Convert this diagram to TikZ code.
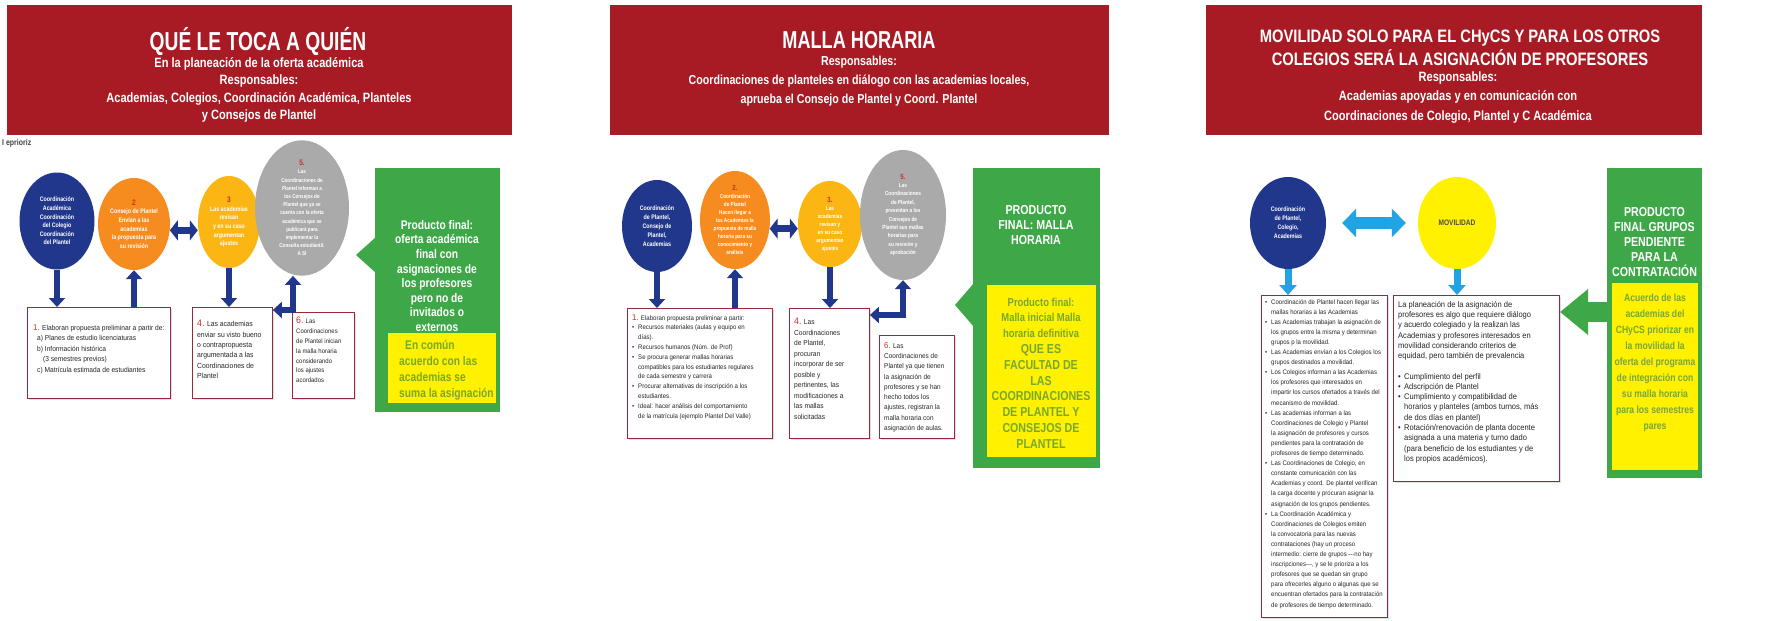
\documentclass[tikz,border=0pt]{standalone}
\usepackage{fontspec}
\setmainfont{Liberation Sans}
\newfontfamily\nar[FakeStretch=0.82]{Liberation Sans}
\newfontfamily\nrm[FakeStretch=0.92]{Liberation Sans}
\newfontfamily\ttl[FakeStretch=0.74]{Liberation Sans}
\usetikzlibrary{shapes.geometric,arrows.meta,shadows}
\definecolor{hdrred}{RGB}{168,27,36}
\definecolor{navy}{RGB}{33,55,140}
\definecolor{orng}{RGB}{246,139,31}
\definecolor{gold}{RGB}{252,182,20}
\definecolor{greyc}{RGB}{170,170,170}
\definecolor{grn}{RGB}{62,168,72}
\definecolor{ylw}{RGB}{255,241,0}
\definecolor{olive}{RGB}{118,168,48}
\definecolor{boxred}{RGB}{150,40,60}
\definecolor{numred}{RGB}{205,45,40}
\definecolor{cyanb}{RGB}{32,164,228}
\newcommand{\mybul}{\makebox[6pt][l]{\textbullet}}
\newcommand{\myind}{\hspace*{6pt}}
\begin{document}
\begin{tikzpicture}[x=1pt,y=-1pt,
  hdr/.style={fill=hdrred, anchor=north west, inner sep=0pt, minimum height=130pt},
  htitle/.style={text=white, font=\nar\bfseries\fontsize{23.5}{26}\selectfont, inner sep=0pt, align=center},
  hsub/.style={text=white, font=\nar\bfseries\fontsize{13.5}{17.5}\selectfont, align=center, inner sep=0pt},
  circ/.style={ellipse, inner sep=0pt, align=center, text=white, font=\nar\bfseries\fontsize{6.5}{8.6}\selectfont},
  tbox/.style={draw=boxred, line width=0.9pt, fill=white, anchor=north west, inner sep=0pt,
    drop shadow={shadow xshift=1.5pt, shadow yshift=-1.5pt, opacity=0.25}},
  btxt/.style={anchor=north west, inner sep=0pt, align=left, text=black!85, font=\nrm\fontsize{7}{10.3}\selectfont},
  grbox/.style={fill=grn, anchor=north west, inner sep=0pt},
  ybox/.style={fill=ylw, anchor=north west, inner sep=0pt},
  grtxt/.style={text=white, align=center, inner sep=0pt, font=\nar\bfseries\fontsize{12.5}{14.6}\selectfont},
  ytxt/.style={text=olive, inner sep=0pt, font=\nar\bfseries\fontsize{12.5}{16}\selectfont},
  barrow/.style={draw=navy, line width=6pt, -{Triangle[width=16pt,length=9pt]}},
  bdbl/.style={draw=navy, line width=7pt, {Triangle[width=20pt,length=8pt]}-{Triangle[width=20pt,length=8pt]}},
  carrow/.style={draw=cyanb, line width=7pt, -{Triangle[width=17pt,length=10pt]}},
  cdbl/.style={draw=cyanb, line width=12pt, {Triangle[width=28pt,length=14pt]}-{Triangle[width=28pt,length=14pt]}}
]
\useasboundingbox (0,0) rectangle (1765,621);
\fill[white] (0,0) rectangle (1765,621);

% ---------------- headers
\node[hdr, minimum width=505pt] (h1) at (7,5) {};
\node[htitle, font=\ttl\bfseries\fontsize{26}{28}\selectfont] (h1t) at (258,42) {QUÉ LE TOCA A QUIÉN};
\node[hsub] (h1s) at (259,90) {En la planeación de la oferta académica\\Responsables:\\Academias, Colegios, Coordinación Académica, Planteles\\y Consejos de Plantel};

\node[hdr, minimum width=499pt] (h2) at (610,5) {};
\node[htitle, font=\ttl\bfseries\fontsize{24.5}{26}\selectfont] (h2t) at (859,40) {MALLA HORARIA};
\node[hsub, font=\nar\bfseries\fontsize{13}{19}\selectfont] (h2s) at (859,81) {Responsables:\\Coordinaciones de planteles en diálogo con las academias locales,\\aprueba el Consejo de Plantel y Coord. Plantel};

\node[hdr, minimum width=496pt] (h3) at (1206,5) {};
\node[htitle, font=\nar\bfseries\fontsize{18}{23}\selectfont] (h3t) at (1460,48) {MOVILIDAD SOLO PARA EL CHyCS Y PARA LOS OTROS\\COLEGIOS SERÁ LA ASIGNACIÓN DE PROFESORES};
\node[hsub, font=\nar\bfseries\fontsize{13.5}{19.5}\selectfont] (h3s) at (1458,97.5) {Responsables:\\Academias apoyadas y en comunicación con\\Coordinaciones de Colegio, Plantel y C Académica};

\node[anchor=west, inner sep=0pt, text=black!75, font=\nar\bfseries\fontsize{8.5}{9}\selectfont] (lab) at (2,143) {I eprioriz};

% ---------------- panel 1
\node[circ, fill=navy, minimum width=75pt, minimum height=97pt] (c1) at (57,221) {Coordinación\\Académica\\Coordinación\\del Colegio\\Coordinación\\del Plantel};
\node[circ, fill=orng, minimum width=72pt, minimum height=92pt] (o1) at (134,224) {{\color{numred}\fontsize{8}{9}\selectfont 2}\\Consejo de Plantel\\Envían a las\\academias\\la propuesta para\\su revisión};
\node[circ, fill=gold, minimum width=62pt, minimum height=92pt] (y1) at (229,222) {{\color{numred}\fontsize{8}{9}\selectfont 3}\\Las academias\\revisan\\y en su caso\\argumentan\\ajustes};
\node[circ, fill=greyc, minimum width=94pt, minimum height=116pt, font=\nar\bfseries\fontsize{5.6}{8.2}\selectfont] (g1) at (302,208) {{\color{numred}\fontsize{8}{8.5}\selectfont 5.}\\Las\\Coordinaciones de\\Plantel informan a\\los Consejos de\\Plantel que ya se\\cuenta con la oferta\\académica que se\\publicará para\\implementar la\\Consulta estudiantil.\\A SI};

\node[tbox, minimum width=143pt, minimum height=91pt] (b1a) at (27,307) {};
\node[tbox, minimum width=80pt, minimum height=91pt] (b1b) at (192,307) {};
\node[tbox, minimum width=62pt, minimum height=86pt] (b1c) at (292,312) {};

\node[btxt, font=\nrm\fontsize{7.2}{10.5}\selectfont] (t1a) at (33,324) {{\color{numred}\fontsize{8.5}{10}\selectfont 1.} Elaboran propuesta preliminar a partir de:\\
\hspace*{4pt}a) Planes de estudio licenciaturas\\
\hspace*{4pt}b) Información histórica\\
\hspace*{10pt}(3 semestres previos)\\
\hspace*{4pt}c) Matrícula estimada de estudiantes};
\node[btxt, font=\nrm\fontsize{7.4}{10.4}\selectfont] (t1b) at (197,320) {{\color{numred}\fontsize{9.5}{10}\selectfont 4.} Las academias\\enviar su visto bueno\\o contrapropuesta\\argumentada a las\\Coordinaciones de\\Plantel};
\node[btxt, font=\nrm\fontsize{6.5}{9.8}\selectfont] (t1c) at (296,317) {{\color{numred}\fontsize{9.5}{10}\selectfont 6.} Las\\Coordinaciones\\de Plantel inician\\la malla horaria\\considerando\\los ajustes\\acordados};

\draw[barrow] (c1.south) -- (c1.south |- b1a.north);
\draw[barrow] (o1.south |- b1a.north) -- (o1.south);
\draw[bdbl] (o1.-10) -- (o1.-10 -| y1.west);
\draw[barrow] (y1.south) -- (y1.south |- b1b.north);
\draw[draw=navy, line width=6pt, {Triangle[width=16pt,length=9pt]}-{Triangle[width=16pt,length=9pt]}] ([xshift=-9pt]g1.south) |- ([yshift=-3pt]b1b.north east);

\node[grbox, minimum width=125pt, minimum height=244pt] (gr1) at (375,168) {};
\coordinate (p1) at (356,255);
\coordinate (p1a) at (376,237);
\coordinate (p1b) at (376,273);
\fill[grn] (p1a) -- (p1) -- (p1b) -- cycle;
\node[ybox, minimum width=108pt, minimum height=70pt] (yb1) at (388,333) {};
\node[grtxt] (gt1) at (437,276) {Producto final:\\oferta académica\\final con\\asignaciones de\\los profesores\\pero no de\\invitados o\\externos};
\node[ytxt, anchor=west, align=left] (yt1) at (399,370) {\hspace*{6pt}En común\\acuerdo con las\\academias se\\suma la asignación};

% ---------------- panel 2
\node[circ, fill=navy, minimum width=70pt, minimum height=92pt, font=\nar\bfseries\fontsize{6.5}{9}\selectfont] (c2) at (657,226) {Coordinación\\de Plantel,\\Consejo de\\Plantel,\\Academias};
\node[circ, fill=orng, minimum width=70pt, minimum height=96pt, font=\nar\bfseries\fontsize{5.7}{8}\selectfont] (o2) at (735,220) {{\color{numred}\fontsize{7.5}{8}\selectfont 2.}\\Coordinación\\de Plantel\\Hacen llegar a\\las Academias la\\propuesta de malla\\horaria para su\\conocimiento y\\análisis};
\node[circ, fill=gold, minimum width=64pt, minimum height=86pt, font=\nar\bfseries\fontsize{5.8}{8}\selectfont] (y2) at (830,224) {{\color{numred}\fontsize{7.5}{8}\selectfont 3.}\\Las\\academias\\revisan y\\en su caso\\argumentan\\ajustes};
\node[circ, fill=greyc, minimum width=86pt, minimum height=130pt, font=\nar\bfseries\fontsize{5.8}{8.4}\selectfont] (g2) at (903,215) {{\color{numred}\fontsize{7.5}{8.4}\selectfont 5.}\\Las\\Coordinaciones\\de Plantel,\\presentan a los\\Consejos de\\Plantel sus mallas\\horarias para\\su revisión y\\aprobación};

\node[tbox, minimum width=145pt, minimum height=130pt] (b2a) at (627,308) {};
\node[tbox, minimum width=80pt, minimum height=130pt] (b2b) at (789,308) {};
\node[tbox, minimum width=75pt, minimum height=103pt] (b2c) at (879,335) {};

\node[btxt, font=\nrm\fontsize{6.6}{9.8}\selectfont] (t2a) at (632,314) {{\color{numred}\fontsize{8.5}{9.8}\selectfont 1.} Elaboran propuesta preliminar a partir:\\
\mybul Recursos materiales (aulas y equipo en\\
\myind días).\\
\mybul Recursos humanos (Núm. de Prof)\\
\mybul Se procura generar mallas horarias\\
\myind compatibles para los estudiantes regulares\\
\myind de cada semestre y carrera\\
\mybul Procurar alternativas de inscripción a los\\
\myind estudiantes.\\
\mybul Ideal: hacer análisis del comportamiento\\
\myind de la matrícula (ejemplo Plantel Del Valle)};
\node[btxt, font=\nrm\fontsize{7.2}{10.5}\selectfont] (t2b) at (794,318) {{\color{numred}\fontsize{9.5}{10.5}\selectfont 4.} Las\\Coordinaciones\\de Plantel,\\procuran\\incorporar de ser\\posible y\\pertinentes, las\\modificaciones a\\las mallas\\solicitadas};
\node[btxt, font=\nrm\fontsize{7}{10.3}\selectfont] (t2c) at (884,342) {{\color{numred}\fontsize{8.5}{10.3}\selectfont 6.} Las\\Coordinaciones de\\Plantel ya que tienen\\la asignación de\\profesores y se han\\hecho todos los\\ajustes, registran la\\malla horaria con\\asignación de aulas.};

\draw[barrow] (c2.south) -- (c2.south |- b2a.north);
\draw[barrow] (o2.south |- b2a.north) -- (o2.south);
\draw[bdbl] (o2.-14) -- (o2.-14 -| y2.west);
\draw[barrow] (y2.south) -- (y2.south |- b2b.north);
\draw[draw=navy, line width=6pt, {Triangle[width=16pt,length=9pt]}-{Triangle[width=16pt,length=9pt]}] (g2.south) |- ([yshift=-7pt]b2b.north east);

\node[grbox, minimum width=127pt, minimum height=300pt] (gr2) at (973,168) {};
\coordinate (p2) at (955,305);
\coordinate (p2a) at (974,283);
\coordinate (p2b) at (974,327);
\fill[grn] (p2a) -- (p2) -- (p2b) -- cycle;
\node[grtxt, font=\nar\bfseries\fontsize{13}{15}\selectfont] (gt2) at (1036,225) {PRODUCTO\\FINAL: MALLA\\HORARIA};
\node[ybox, minimum width=109pt, minimum height=172pt] (yb2) at (987,285) {};
\node[ytxt, align=center, font=\nar\bfseries\fontsize{13}{15.8}\selectfont] (yt2) at (1041,373) {{\fontsize{11.5}{15.8}\selectfont Producto final:}\\{\fontsize{11.5}{15.8}\selectfont Malla inicial Malla}\\{\fontsize{11.5}{15.8}\selectfont horaria definitiva}\\QUE ES\\FACULTAD DE\\LAS\\COORDINACIONES\\DE PLANTEL Y\\CONSEJOS DE\\PLANTEL};

% ---------------- panel 3
\node[circ, fill=navy, minimum width=76pt, minimum height=92pt, font=\nar\bfseries\fontsize{6.5}{9}\selectfont] (c3) at (1288,223) {Coordinación\\de Plantel,\\Colegio,\\Academias};
\node[circ, fill=ylw, minimum width=78pt, minimum height=92pt, text=black!70, font=\nar\bfseries\fontsize{8}{9}\selectfont] (y3) at (1457,223) {MOVILIDAD};
\draw[cdbl, shorten <=16pt, shorten >=12pt] (c3) -- (y3);

\node[tbox, minimum width=126pt, minimum height=322pt] (lb) at (1261,295) {};
\node[tbox, minimum width=166pt, minimum height=186pt] (mb) at (1393,295) {};
\draw[carrow] (c3.south) -- (c3.south |- lb.north);
\draw[carrow] (y3.south) -- (y3.south |- mb.north);

\node[btxt, font=\nrm\fontsize{6.55}{10.1}\selectfont] (tl) at (1265,299) {\mybul Coordinación de Plantel hacen llegar las\\
\myind mallas horarias a las Academias\\
\mybul Las Academias trabajan la asignación de\\
\myind los grupos entre la misma y determinan\\
\myind grupos p la movilidad.\\
\mybul Las Academias envían a los Colegios los\\
\myind grupos destinados a movilidad.\\
\mybul Los Colegios informan a las Academias\\
\myind los profesores que interesados en\\
\myind impartir los cursos ofertados a través del\\
\myind mecanismo de movilidad.\\
\mybul Las academias informan a las\\
\myind Coordinaciones de Colegio y Plantel\\
\myind la asignación de profesores y cursos\\
\myind pendientes para la contratación de\\
\myind profesores de tiempo determinado.\\
\mybul Las Coordinaciones de Colegio, en\\
\myind constante comunicación con las\\
\myind Academias y coord. De plantel verifican\\
\myind la carga docente y procuran asignar la\\
\myind asignación de los grupos pendientes.\\
\mybul La Coordinación Académica y\\
\myind Coordinaciones de Colegios emiten\\
\myind la convocatoria para las nuevas\\
\myind contrataciones (hay un proceso\\
\myind intermedio: cierre de grupos ---no hay\\
\myind inscripciones---, y se le prioriza a los\\
\myind profesores que se quedan sin grupo\\
\myind para ofrecerles alguno o algunas que se\\
\myind encuentran ofertados para la contratación\\
\myind de profesores de tiempo determinado.};

\node[btxt, font=\nrm\fontsize{8.2}{10.3}\selectfont] (tm) at (1398,301) {La planeación de la asignación de\\
profesores es algo que requiere diálogo\\
y acuerdo colegiado y la realizan las\\
Academias y profesores interesados en\\
movilidad considerando criterios de\\
equidad, pero también de prevalencia\\[10pt]
\mybul Cumplimiento del perfil\\
\mybul Adscripción de Plantel\\
\mybul Cumplimiento y compatibilidad de\\
\myind horarios y planteles (ambos turnos, más\\
\myind de dos días en plantel)\\
\mybul Rotación/renovación de planta docente\\
\myind asignada a una materia y turno dado\\
\myind (para beneficio de los estudiantes y de\\
\myind los propios académicos).};

\node[grbox, minimum width=95pt, minimum height=310pt] (gr3) at (1607,168) {};
\coordinate (p3) at (1560,312);
\draw[grn, line width=20pt, -{Triangle[width=44pt,length=28pt]}] (gr3.west |- p3) -- (p3);
\node[grtxt, font=\nar\bfseries\fontsize{13}{15}\selectfont] (gt3) at (1654.5,242) {PRODUCTO\\FINAL GRUPOS\\PENDIENTE\\PARA LA\\CONTRATACIÓN};
\node[ybox, minimum width=86pt, minimum height=187pt] (yb3) at (1612,283) {};
\node[ytxt, align=center, font=\nar\bfseries\fontsize{10.5}{16}\selectfont] (yt3) at (1655,363) {Acuerdo de las\\academias del\\CHyCS priorizar en\\la movilidad la\\oferta del programa\\de integración con\\su malla horaria\\para los semestres\\pares};
\end{tikzpicture}
\end{document}
